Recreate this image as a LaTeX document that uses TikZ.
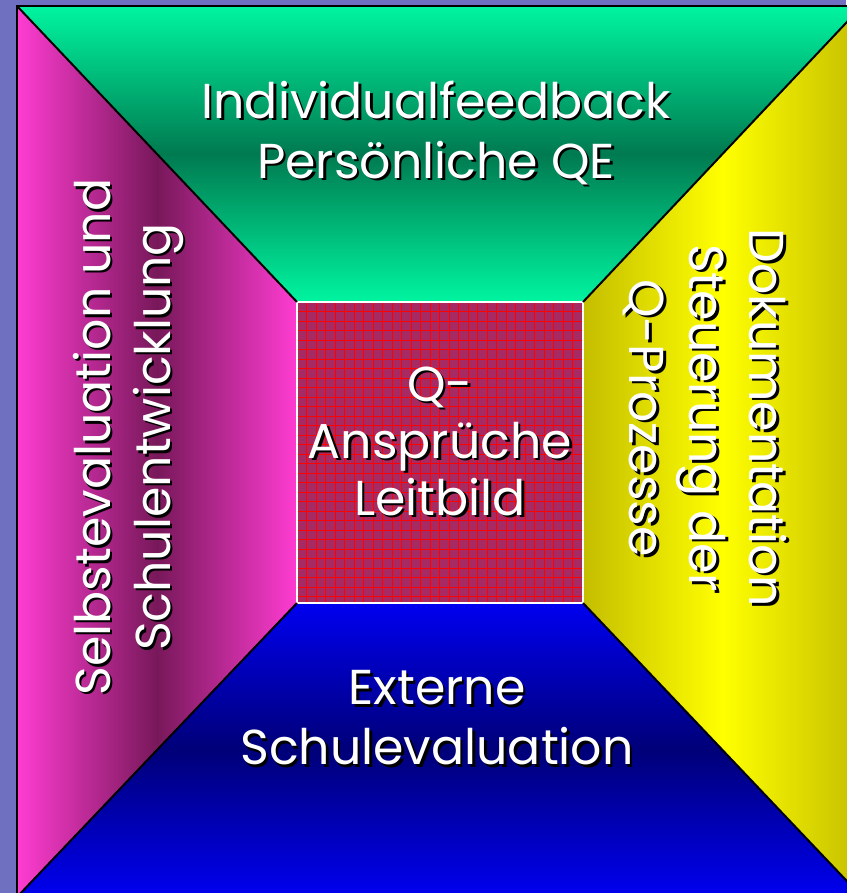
\documentclass[tikz,border=0pt]{standalone}
\usepackage{fontspec}
\setmainfont{Poppins}
\usetikzlibrary{calc}
\definecolor{bgblue}{HTML}{7070C0}
\definecolor{grnB}{HTML}{00F5A0}
\definecolor{grnD}{HTML}{007A50}
\definecolor{pnkB}{HTML}{FF3CD2}
\definecolor{pnkD}{HTML}{78185A}
\definecolor{ylwB}{HTML}{FFFF00}
\definecolor{ylwD}{HTML}{C4BE00}
\definecolor{bluB}{HTML}{0000F0}
\definecolor{bluD}{HTML}{000078}
\definecolor{ctrF}{HTML}{A82A62}
\tikzset{
  lab/.style={align=center,inner sep=0pt,font=\fontsize{49}{60}\selectfont},
  edge/.style={black,line width=2pt},
}
\newcommand\shlabel[5][60]{%
  \node[lab,black,rotate=#4,font=\fontsize{49}{#1}\selectfont] (#2s) at ($(#3)+(2.5,2.5)$) {#5};
  \node[lab,white,rotate=#4,font=\fontsize{49}{#1}\selectfont] (#2) at (#3) {#5};}
\begin{document}
\begin{tikzpicture}[x=1pt,y=-1pt]
\useasboundingbox (0,0) rectangle (846,893);
\fill[bgblue] (0,0) rectangle (846,893);
% corners
\coordinate (OTL) at (17,6);
\coordinate (OTR) at (862,6);
\coordinate (OBL) at (17,897);
\coordinate (OBR) at (862,897);
\coordinate (ITL) at (297,302);
\coordinate (ITR) at (583,302);
\coordinate (IBL) at (297,603);
\coordinate (IBR) at (583,603);
% top (green)
\begin{scope}
\clip (OTL) -- (OTR) -- (ITR) -- (ITL) -- cycle;
\shade[top color=grnB,bottom color=grnB,middle color=grnD] (17,6) rectangle (862,302);
\end{scope}
% left (pink)
\begin{scope}
\clip (OTL) -- (ITL) -- (IBL) -- (OBL) -- cycle;
\shade[left color=pnkB,right color=pnkB,middle color=pnkD] (17,6) rectangle (297,897);
\end{scope}
% right (yellow)
\begin{scope}
\clip (OTR) -- (OBR) -- (IBR) -- (ITR) -- cycle;
\shade[left color=ylwD,right color=ylwD,middle color=ylwB] (583,6) rectangle (862,897);
\end{scope}
% bottom (blue)
\begin{scope}
\clip (OBL) -- (IBL) -- (IBR) -- (OBR) -- cycle;
\shade[top color=bluB,bottom color=bluB,middle color=bluD] (17,603) rectangle (862,897);
\end{scope}
% centre
\fill[ctrF] (ITL) rectangle (IBR);
\begin{scope}
\clip (ITL) rectangle (IBR);
\foreach \i in {0,...,32} {
  \draw[red,line width=0.9pt] (297+\i*9.5,302) -- (297+\i*9.5,603);
  \draw[red,line width=0.9pt] (297,302+\i*9.5) -- (583,302+\i*9.5);
}
\end{scope}
\draw[white,line width=2pt] (ITL) rectangle (IBR);
% edges
\draw[edge] (OTL) -- (ITL);
\draw[edge] (OTR) -- (ITR);
\draw[edge] (OBL) -- (IBL);
\draw[edge] (OBR) -- (IBR);
\draw[black,line width=2.5pt] (OBL) -- (OTL) -- (OTR);
% labels
\shlabel{top}{436,133}{0}{Individualfeedback\\Persönliche QE}
\shlabel{left}{128,437}{90}{Selbstevaluation und\\Schulentwicklung}
\shlabel{right}{705,418}{-90}{Dokumentation\\Steuerung der\\Q-Prozesse}
\shlabel[57]{ctr}{440,441}{0}{Q-\\Ansprüche\\Leitbild}
\shlabel{bot}{437,718}{0}{Externe\\Schulevaluation}
\end{tikzpicture}
\end{document}
